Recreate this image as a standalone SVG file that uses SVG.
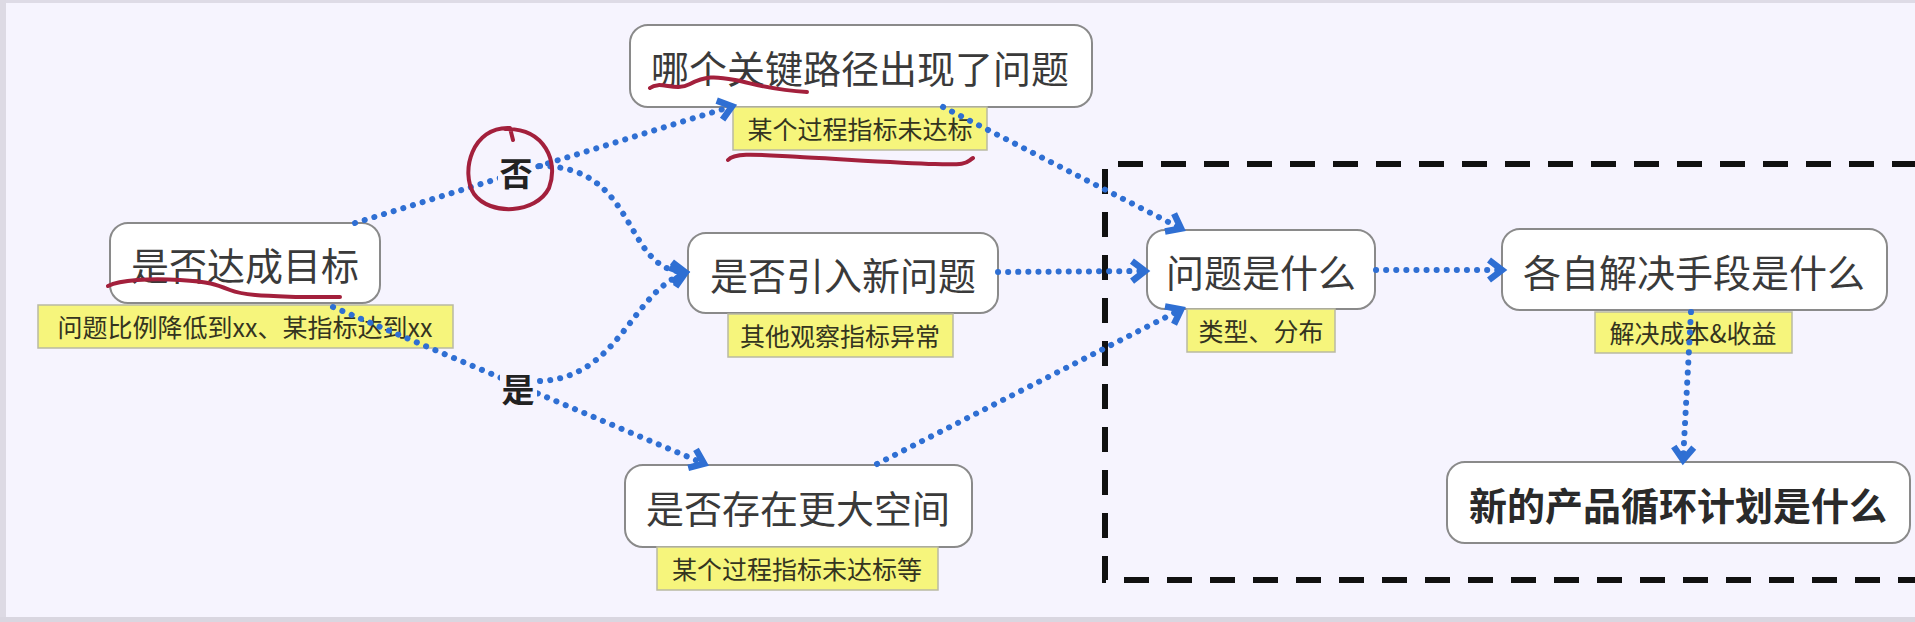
<svg xmlns="http://www.w3.org/2000/svg" width="1915" height="622" viewBox="0 0 1915 622">
<style>
.node rect.box{fill:#ffffff;stroke:#8a8a8a;stroke-width:2}
.node text.t{font-family:"Noto Sans CJK SC","Noto Sans",sans-serif;font-size:38px;fill:#3a3a3a;text-anchor:middle;dominant-baseline:central}
.node text.b{font-weight:bold;fill:#2a2a2a}
.node rect.note{fill:#f6f57c;stroke:#b9b9a2;stroke-width:1.5}
.node text.n{font-family:"Noto Sans CJK SC","Noto Sans",sans-serif;font-size:25px;fill:#34341f;text-anchor:middle;dominant-baseline:central}
.edge{fill:none;stroke:#2f6fd3;stroke-width:6;stroke-dasharray:0.1 10;stroke-linecap:round;marker-end:url(#arr)}
.elabel text{font-family:"Noto Sans CJK SC","Noto Sans",sans-serif;font-size:33px;font-weight:bold;fill:#222;text-anchor:middle;dominant-baseline:central}
.elabel rect{fill:#f6f4fe}
.ink{fill:none;stroke:#a3203c;stroke-width:4;stroke-linecap:round;stroke-linejoin:round}
</style>
<defs>
<marker id="arr" markerUnits="userSpaceOnUse" markerWidth="30" markerHeight="30" viewBox="-20 -15 30 30" refX="0" refY="0" orient="auto">
<path d="M-14,-10 L-1,0 L-14,10" fill="none" stroke="#2f6fd3" stroke-width="6.5" stroke-linejoin="miter"/>
</marker>
</defs>
<rect x="0" y="0" width="1915" height="622" fill="#f6f4fe"/>
<rect x="0" y="0" width="1915" height="3" fill="#dedbe6"/>
<rect x="0" y="0" width="6" height="622" fill="#dddae4"/>
<rect x="0" y="617" width="1915" height="5" fill="#d9d6e0"/>

<path d="M1960,164 H1105 V580 H1960" fill="none" stroke="#111" stroke-width="6" stroke-dasharray="25 18"/>

<g id="node-goal" class="node">
<rect class="box" x="110" y="223" width="270" height="80" rx="18"/>
<text class="t" x="245" y="263">是否达成目标</text>
<rect class="note" x="38" y="305" width="415" height="43"/>
<text class="n" x="245" y="326">问题比例降低到xx、某指标达到xx</text>
</g>
<g id="node-path" class="node">
<rect class="box" x="630" y="25" width="462" height="82" rx="18"/>
<text class="t" x="860" y="66">哪个关键路径出现了问题</text>
<rect class="note" x="733" y="107" width="254" height="43"/>
<text class="n" x="860" y="128">某个过程指标未达标</text>
</g>
<g id="node-newproblem" class="node">
<rect class="box" x="688" y="233" width="310" height="80" rx="18"/>
<text class="t" x="843" y="273">是否引入新问题</text>
<rect class="note" x="728" y="314" width="225" height="43"/>
<text class="n" x="840" y="335">其他观察指标异常</text>
</g>
<g id="node-space" class="node">
<rect class="box" x="625" y="465" width="347" height="82" rx="18"/>
<text class="t" x="798" y="506">是否存在更大空间</text>
<rect class="note" x="657" y="547" width="281" height="43"/>
<text class="n" x="797" y="568">某个过程指标未达标等</text>
</g>
<g id="node-what" class="node">
<rect class="box" x="1147" y="230" width="228" height="79" rx="18"/>
<text class="t" x="1261" y="270">问题是什么</text>
<rect class="note" x="1187" y="309" width="148" height="43"/>
<text class="n" x="1261" y="330">类型、分布</text>
</g>
<g id="node-means" class="node">
<rect class="box" x="1502" y="229" width="385" height="81" rx="18"/>
<text class="t" x="1694" y="270">各自解决手段是什么</text>
<rect class="note" x="1595" y="312" width="197" height="41"/>
<text class="n" x="1693" y="332">解决成本&amp;收益</text>
</g>
<g id="node-plan" class="node">
<rect class="box" x="1447" y="462" width="463" height="81" rx="18"/>
<text class="t b" x="1678" y="503">新的产品循环计划是什么</text>
</g>

<g id="connectors">
<path class="edge" d="M355,223 L733,106"/>
<path class="edge" d="M540,166 C640,166 622,272 686,272"/>
<path class="edge" d="M333,307 L705,464"/>
<path class="edge" d="M540,381 C620,378 632,290 686,273"/>
<path class="edge" d="M943,107 L1182,229"/>
<path class="edge" d="M998,272 L1146,271"/>
<path class="edge" d="M877,464 L1182,309"/>
<path class="edge" d="M1376,270 L1503,270"/>
<path class="edge" d="M1691,312 L1683,461"/>
</g>

<g id="edge-labels" class="elabel">
<rect x="498" y="154" width="36" height="38"/>
<text x="516" y="172">否</text>
<rect x="500" y="368" width="37" height="38"/>
<text x="518" y="388">是</text>
</g>

<g id="annotations">
<path class="ink" d="M108,286 C120,280 150,278 180,280 S215,284 230,290 S270,296 300,297 L340,297"/>
<path class="ink" d="M650,88 C660,80 675,92 690,84 S715,76 735,80 S770,90 807,92"/>
<path class="ink" d="M728,160 C735,152 760,155 800,157 S900,163 935,164 S965,163 973,158"/>
<path class="ink" d="M513,140 L510,128 C472,126 460,172 474,194 C490,216 536,214 549,188 C559,162 545,128 505,129"/>
</g>
</svg>
